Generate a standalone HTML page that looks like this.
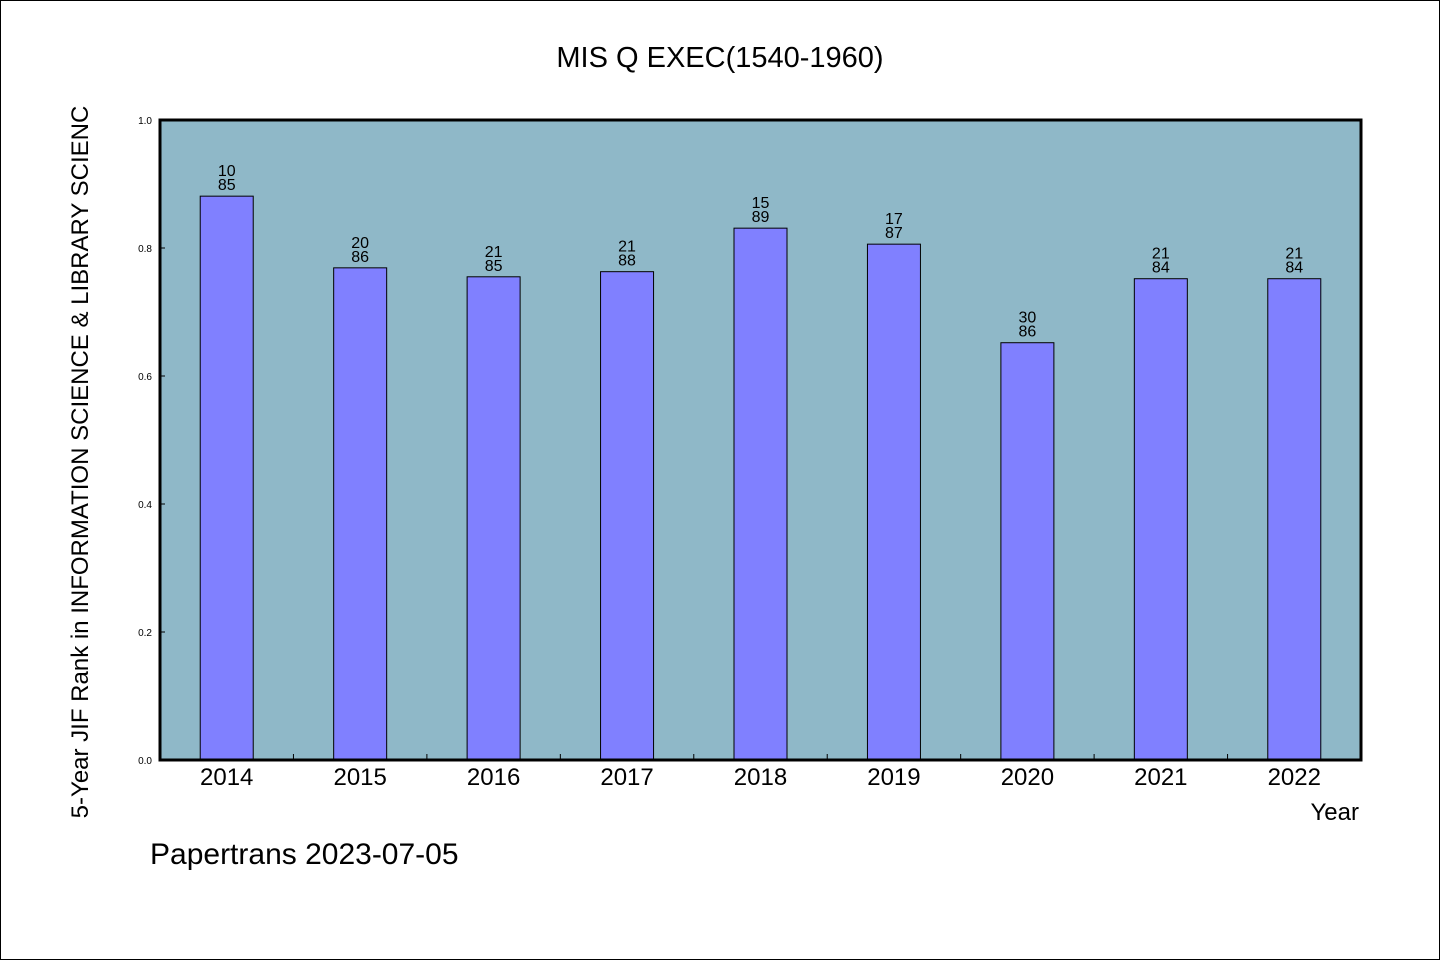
<!DOCTYPE html>
<html><head><meta charset="utf-8"><style>
html,body{margin:0;padding:0;background:#fff}
svg text{font-family:"WenQuanYi Zen Hei","Liberation Sans",sans-serif;fill:#000}
</style></head><body>
<svg id="chart" width="1440" height="960" xmlns="http://www.w3.org/2000/svg">
<rect x="0.5" y="0.5" width="1439" height="959" fill="#fff" stroke="#000"/>
<text x="720" y="67" font-size="29" text-anchor="middle">MIS Q EXEC(1540-1960)</text>
<rect x="160" y="120" width="1201" height="640" fill="#8fb8c8"/>
<g id="bars"></g>
<g id="ticks"></g>
<rect x="160" y="120" width="1201" height="640" fill="none" stroke="#000" stroke-width="3"/>
<text transform="translate(88,462) rotate(-90)" font-size="24" text-anchor="middle">5-Year JIF Rank in INFORMATION SCIENCE &amp; LIBRARY SCIENC</text>
<text x="1359" y="820" font-size="24" text-anchor="end">Year</text>
<text x="150" y="864" font-size="30">Papertrans 2023-07-05</text>
</svg>
<script>
const categories=["2014","2015","2016","2017","2018","2019","2020","2021","2022"];
const values=[0.881,0.769,0.755,0.763,0.831,0.806,0.652,0.752,0.752];
const ranks=["10","20","21","21","15","17","30","21","21"];
const totals=["85","86","85","88","89","87","86","84","84"];
const yTicks=[0,0.2,0.4,0.6,0.8,1.0];
const yTickLabels=["0.0","0.2","0.4","0.6","0.8","1.0"];
const NS="http://www.w3.org/2000/svg";
const X0=160,X1=1361,Y0=760,Y1=120;
const bw=(X1-X0)/categories.length;
const xc=i=>X0+bw*(i+0.5);
const y=v=>Y0-(v)*(Y0-Y1);
function mk(t,a,p){const e=document.createElementNS(NS,t);for(const k in a)e.setAttribute(k,a[k]);p.appendChild(e);return e;}
const bars=document.getElementById('bars'),ticks=document.getElementById('ticks');
categories.forEach((c,i)=>{
  const r=mk('rect',{x:xc(i)-26.5,y:y(values[i]),width:53,height:Y0-y(values[i]),fill:'#8080ff',stroke:'#000','stroke-width':1},bars);
  
  
  const t1=mk('text',{x:xc(i),y:y(values[i])-20,'font-size':16,'text-anchor':'middle'},bars);
  t1.textContent=ranks[i];
  
  
  const t2=mk('text',{x:xc(i),y:y(values[i])-6,'font-size':16,'text-anchor':'middle'},bars);
  t2.textContent=totals[i];
  
  
  const xl=mk('text',{x:xc(i),y:785,'font-size':24,'text-anchor':'middle'},ticks);
  xl.textContent=c;
  
  
  if(i>0){const tk=mk('line',{x1:X0+bw*i,x2:X0+bw*i,y1:Y0,y2:Y0-6,stroke:'#000','stroke-width':1},ticks);
  
  }
});
yTicks.forEach((v,i)=>{
  const tk=mk('line',{x1:X0,x2:X0+5,y1:y(v),y2:y(v),stroke:'#000','stroke-width':1},ticks);
  
  
  const tl=mk('text',{x:152,y:y(v)+4,'font-size':10,'text-anchor':'end'},ticks);
  tl.textContent=yTickLabels[i];
  
  
});
</script>
</body></html>
